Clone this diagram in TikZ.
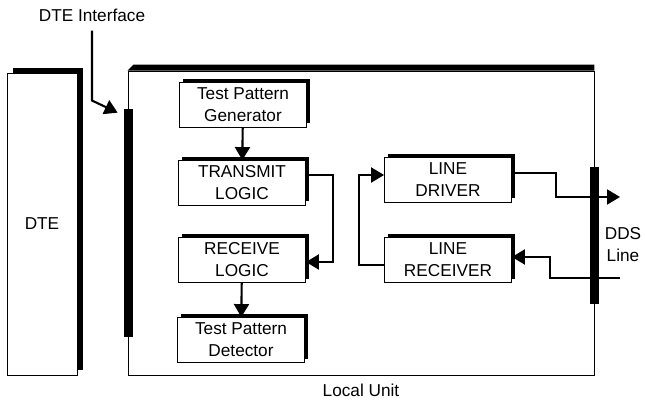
\documentclass[tikz,border=0pt]{standalone}
\usepackage{fontspec}
\setmainfont{Liberation Sans}
\usetikzlibrary{arrows.meta,shadows,calc,positioning}

\begin{document}
\begin{tikzpicture}[x=0.02cm,y=-0.02cm,font=\fontsize{9.8}{12.5}\selectfont,
        conn/.style={line width=1.2pt,-{Triangle[length=0.26cm,width=0.3cm]}},
        bar/.style={fill,inner sep=0pt,minimum width=0.18cm}]
        \useasboundingbox (0,0) rectangle (645,399);

        % Local unit
        \node[draw,line width=0.5pt,inner sep=0pt,minimum width=9.32cm,minimum height=6.08cm] (lu) at (361,223) {};
        \fill (lu.north west) -- ++(6,-6) -- ($(lu.north east)+(0,-6)$) -- (lu.north east) -- cycle;
        \node[below=0.04cm of lu] (lulbl) {Local Unit};

        % DTE
        \node[draw,fill=white,line width=0.5pt,drop shadow={shadow xshift=0.12cm,shadow yshift=0.1cm,fill=black,opacity=1},
            minimum width=1.4cm,minimum height=6.04cm] (dte) at (42,224) {DTE};

        % Interfaces
        \node[bar,minimum height=4.56cm] (dteif) at (128.5,223) {};
        \node[bar,minimum height=2.74cm] (ddsbar) at (594.5,235.5) {};

        \begin{scope}[every node/.style={draw,fill=white,line width=0.5pt,align=center,inner sep=1pt,
                drop shadow={shadow xshift=0.07cm,shadow yshift=0.08cm,fill=black,opacity=1},
                minimum width=2.54cm,minimum height=0.9cm}]
            % Transmit side
            \node (gen) at (243,105) {Test Pattern\\Generator};
            \node (tx) at (242,183) {TRANSMIT\\LOGIC};
            % Receive side
            \node (rx) at (242,260) {RECEIVE\\LOGIC};
            \node (det) at (241,340) {Test Pattern\\Detector};
            % Line
            \node (drv) at (448,180) {LINE\\DRIVER};
            \node (lrx) at (448,260) {LINE\\RECEIVER};
        \end{scope}

        \node (iflbl) at (92,15) {DTE Interface};
        \node[align=center] (ddslbl) at (623,245) {DDS\\Line};
        \coordinate (ddsout) at (620,197);
        \coordinate (ddsin) at (620,278);

        \draw[conn] (iflbl.south) ++(0,3) -- ++(0,70) -- ($(dteif.north west)+(-6,4)$);
        \draw[conn] (gen) -- (tx);
        \draw[conn] ($(tx.east)+(0,-8)$) -- ++(27,0) |- ($(rx.east)+(0,2)$);
        \draw[conn] (rx) -- (det);
        \draw[conn] ($(lrx.west)+(0,5)$) -- ++(-25,0) |- ($(drv.west)+(0,-5)$);
        \draw[conn] ($(drv.east)+(0,-7)$) -- ++(44,0) |- (ddsout);
        \draw[conn] (ddsin) -- ++(-70,0) |- ($(lrx.east)+(0,-3)$);
    \end{tikzpicture}
\end{document}
